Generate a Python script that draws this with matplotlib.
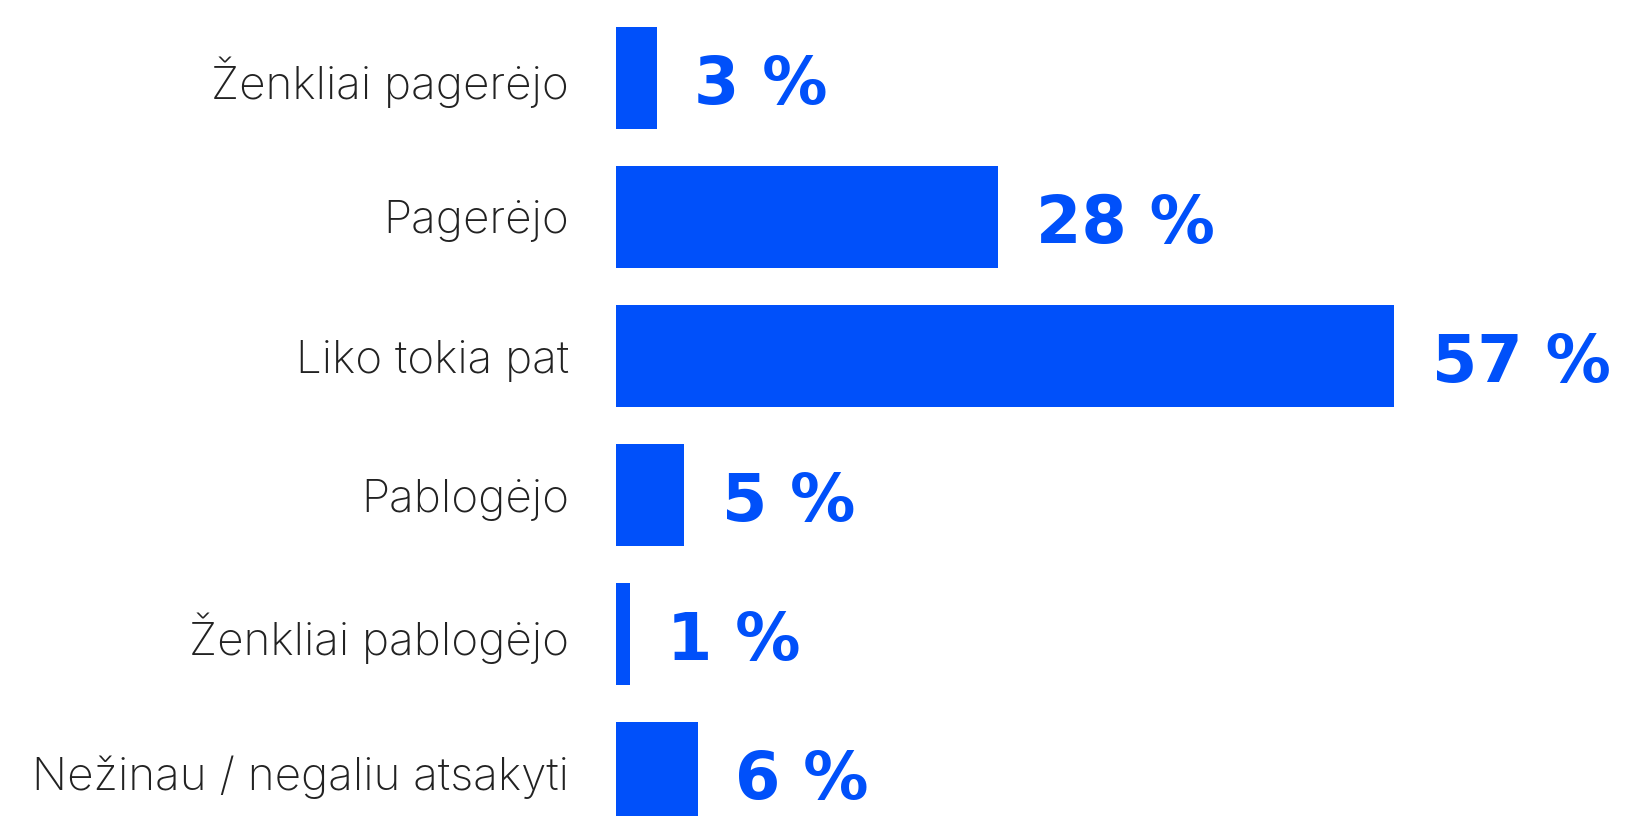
import matplotlib
matplotlib.use("Agg")
import matplotlib.pyplot as plt
import numpy as np

categories = [
    "Ženkliai pagerėjo",
    "Pagerėjo",
    "Liko tokia pat",
    "Pablogėjo",
    "Ženkliai pablogėjo",
    "Nežinau / negaliu atsakyti",
]
shares = [3, 28, 57, 5, 1, 6]

BLUE = "#0050FA"

fig = plt.figure(figsize=(16.3, 8.16), dpi=100)
# axes starts where the bars start, runs to the right edge
ax = fig.add_axes([616 / 1630, 0, 1 - 616 / 1630, 1])

y = np.arange(len(categories))
ax.barh(y, shares, height=0.73, color=BLUE)

ax.set_xlim(0, 1014 / 13.65)
ax.set_ylim(5.309, -0.561)

# value labels sit on a baseline a little under the bar centre
for yi, v in zip(y, shares):
    ax.text(v + 2.75, yi + 0.185, f"{v} %", va="baseline", ha="left",
            fontsize=47, fontweight="bold", color=BLUE,
            family=["DejaVu Sans"])

ax.set_yticks(y)
ax.set_yticklabels(categories, fontsize=33, color="#222222",
                   family=["Inter", "Roboto", "DejaVu Sans"], fontweight="light")
ax.tick_params(axis="y", length=0, pad=34)
ax.set_xticks([])
for s in ax.spines.values():
    s.set_visible(False)

fig.savefig("out.png", dpi=100)
